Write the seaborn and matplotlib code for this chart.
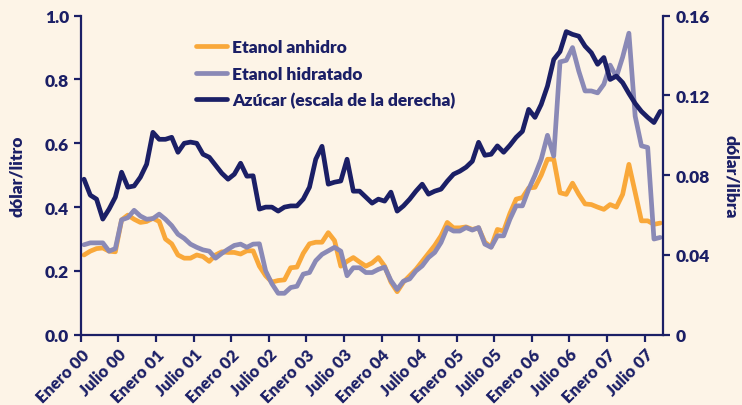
import numpy as np
import pandas as pd
import matplotlib
matplotlib.use("Agg")
import matplotlib.pyplot as plt
import seaborn as sns

# etiquetas del eje x (cada 6 meses, enero 2000 - julio 2007)
tick_labels = ["Enero 00", "Julio 00", "Enero 01", "Julio 01", "Enero 02", "Julio 02",
               "Enero 03", "Julio 03", "Enero 04", "Julio 04", "Enero 05", "Julio 05",
               "Enero 06", "Julio 06", "Enero 07", "Julio 07"]

# dólar/litro, mensual desde enero 2000
anhidro = [0.25, 0.262, 0.27, 0.272, 0.262, 0.26, 0.36, 0.375, 0.362, 0.352,
           0.355, 0.365, 0.355, 0.30, 0.285, 0.25, 0.24, 0.24, 0.25, 0.245,
           0.23, 0.25, 0.26, 0.258, 0.258, 0.253, 0.263, 0.263, 0.215, 0.185,
           0.165, 0.17, 0.172, 0.21, 0.212, 0.255, 0.285, 0.29, 0.29, 0.32,
           0.295, 0.215, 0.23, 0.242, 0.228, 0.215, 0.225, 0.242, 0.215, 0.165,
           0.135, 0.165, 0.185, 0.205, 0.23, 0.255, 0.28, 0.31, 0.352, 0.335,
           0.335, 0.338, 0.33, 0.335, 0.29, 0.275, 0.33, 0.325, 0.38, 0.425,
           0.43, 0.46, 0.462, 0.50, 0.55, 0.55, 0.445, 0.44, 0.475, 0.44,
           0.41, 0.408, 0.40, 0.393, 0.408, 0.40, 0.44, 0.534, 0.446, 0.357,
           0.357, 0.346, 0.35]

hidratado = [0.282, 0.288, 0.288, 0.288, 0.262, 0.27, 0.36, 0.367, 0.39, 0.372,
             0.362, 0.364, 0.378, 0.362, 0.342, 0.315, 0.302, 0.284, 0.274, 0.266,
             0.262, 0.24, 0.255, 0.268, 0.28, 0.284, 0.274, 0.284, 0.285, 0.20,
             0.16, 0.13, 0.13, 0.148, 0.152, 0.19, 0.195, 0.232, 0.252, 0.263,
             0.274, 0.262, 0.185, 0.21, 0.21, 0.195, 0.195, 0.205, 0.212, 0.17,
             0.142, 0.168, 0.175, 0.2, 0.216, 0.242, 0.258, 0.289, 0.336, 0.325,
             0.325, 0.336, 0.328, 0.336, 0.284, 0.274, 0.31, 0.31, 0.362, 0.404,
             0.404, 0.456, 0.50, 0.55, 0.625, 0.56, 0.855, 0.86, 0.90, 0.826,
             0.764, 0.764, 0.758, 0.785, 0.845, 0.808, 0.87, 0.945, 0.685, 0.592,
             0.587, 0.30, 0.305]

# dólar/libra (eje derecho)
azucar = [0.078, 0.070, 0.068, 0.058, 0.063, 0.069, 0.0815, 0.074, 0.0746, 0.079,
          0.0855, 0.1015, 0.098, 0.098, 0.099, 0.0915, 0.096, 0.0966, 0.096, 0.0905,
          0.089, 0.085, 0.081, 0.078, 0.0805, 0.086, 0.0795, 0.0797, 0.063, 0.064,
          0.064, 0.062, 0.064, 0.0646, 0.0646, 0.068, 0.074, 0.088, 0.0945, 0.0755,
          0.0765, 0.0771, 0.088, 0.072, 0.072, 0.069, 0.066, 0.068, 0.067, 0.0715,
          0.062, 0.0646, 0.068, 0.072, 0.0755, 0.0705, 0.072, 0.073, 0.077, 0.0805,
          0.082, 0.084, 0.087, 0.0965, 0.090, 0.0905, 0.0947, 0.0915, 0.095, 0.099,
          0.102, 0.113, 0.109, 0.1155, 0.1247, 0.138, 0.142, 0.152, 0.1506, 0.1497,
          0.1447, 0.1414, 0.1356, 0.139, 0.128, 0.1297, 0.1264, 0.121, 0.116, 0.112,
          0.109, 0.1064, 0.112]

df = pd.DataFrame({
    "mes": np.arange(len(anhidro)) + 0.5,
    "anhidro": anhidro,
    "hidratado": hidratado,
    "azucar": azucar,
})

navy = "#1b1f66"
orange = "#f9a83a"
grey = "#8a89b6"
bg = "#fdf4e7"
W = "heavy"

sns.set_style("ticks")
plt.rcParams["font.family"] = ["Lato", "DejaVu Sans"]
plt.rcParams["font.weight"] = W

fig = plt.figure(figsize=(7.42, 4.06), dpi=100, facecolor=bg)
ax = fig.add_axes([0.109, 0.173, 0.785, 0.786])
ax.set_facecolor(bg)
ax2 = ax.twinx()

sns.lineplot(data=df, x="mes", y="anhidro", ax=ax, color=orange, linewidth=3.4,
             label="Etanol anhidro", legend=False)
sns.lineplot(data=df, x="mes", y="hidratado", ax=ax, color=grey, linewidth=3.4,
             label="Etanol hidratado", legend=False)
sns.lineplot(data=df, x="mes", y="azucar", ax=ax2, color=navy, linewidth=3.4,
             label="Azúcar (escala de la derecha)", legend=False)

ax.set_xlim(0, len(anhidro))
ax.set_ylim(0, 1.0)
ax2.set_ylim(0, 0.16)

ax.set_xticks(np.arange(len(tick_labels)) * 6)
ax.set_xticklabels(tick_labels, rotation=45, ha="right", rotation_mode="anchor")
ax.set_yticks([0, 0.2, 0.4, 0.6, 0.8, 1.0])
ax.set_yticklabels(["0.0", "0.2", "0.4", "0.6", "0.8", "1.0"])
ax2.set_yticks([0, 0.04, 0.08, 0.12, 0.16])
ax2.set_yticklabels(["0", "0.04", "0.08", "0.12", "0.16"])

ax.set_xlabel("")
ax.set_ylabel("dólar/litro", color=navy, fontsize=12.5, fontweight=W, labelpad=14)
ax2.set_ylabel("dólar/libra", color=navy, fontsize=12.5, fontweight=W,
               rotation=270, labelpad=21)

for a in (ax, ax2):
    for side in ("left", "right", "bottom"):
        a.spines[side].set_color(navy)
        a.spines[side].set_linewidth(1.6)
    a.spines["top"].set_visible(False)
    a.tick_params(colors=navy, width=1.6, length=5, labelsize=12.5)
    for lbl in a.get_xticklabels() + a.get_yticklabels():
        lbl.set_fontweight(W)
        lbl.set_color(navy)
ax.spines["right"].set_visible(False)
ax2.spines["left"].set_visible(False)
ax2.spines["bottom"].set_visible(False)
ax.tick_params(axis="x", labelsize=12, pad=3)

h1, l1 = ax.get_legend_handles_labels()
h2, l2 = ax2.get_legend_handles_labels()
leg = ax2.legend(h1 + h2, l1 + l2, loc="upper left", bbox_to_anchor=(0.17, 0.975),
                 frameon=False, fontsize=12.5, handlelength=1.8, handletextpad=0.3,
                 labelspacing=0.6)
for t in leg.get_texts():
    t.set_color(navy)
    t.set_fontweight(W)

fig.savefig("out.png", dpi=100, facecolor=bg)
